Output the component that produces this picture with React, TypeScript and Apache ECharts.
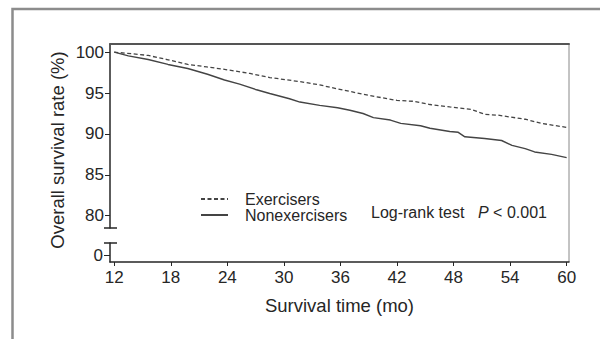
import React, { useEffect, useRef } from "react";
import * as echarts from "echarts";

const xTicks = [12, 18, 24, 30, 36, 42, 48, 54, 60];
const yTicksUpper = [80, 85, 90, 95, 100];
const yTicksLower = [0];
const seriesNames = ["Exercisers", "Nonexercisers"];

const exerTime = [12, 14, 15.6, 17.6, 19.8, 21.8, 23.7, 26.4, 28.5, 31.7, 33.8, 35.7, 37, 39.1, 42, 43.7, 45.5, 47.6, 49.9, 51.3, 52.7, 55.6, 57.3, 60];
const exerSurv = [100, 99.8, 99.6, 99.1, 98.5, 98.2, 97.9, 97.4, 96.9, 96.4, 96.0, 95.5, 95.2, 94.7, 94.1, 94.0, 93.6, 93.3, 93.0, 92.4, 92.3, 91.8, 91.3, 90.8];

const nonTime = [12, 13.5, 15.6, 17.7, 19.8, 21.9, 23.7, 25.3, 27.1, 28.5, 30.6, 31.7, 33.8, 35.7, 37.0, 38.4, 39.5, 41.3, 42.4, 44.5, 45.5, 47.6, 48.5, 49.2, 51.3, 53.1, 54.2, 55.6, 56.6, 58.4, 60];
const nonSurv = [100, 99.55, 99.1, 98.5, 98.0, 97.3, 96.6, 96.1, 95.4, 94.95, 94.3, 93.9, 93.5, 93.2, 92.9, 92.5, 92.0, 91.7, 91.3, 91.0, 90.7, 90.3, 90.2, 89.65, 89.45, 89.2, 88.6, 88.2, 87.8, 87.5, 87.1];

export default function App() {
  const ref = useRef<HTMLDivElement>(null);
  useEffect(() => {
    document.body.style.margin = "0";
    const chart = echarts.init(ref.current!, null, { renderer: "svg" });
    const font = "'Liberation Sans', Arial, Helvetica, sans-serif";
    const ink = "#262626";
    const lineColor = "#444";
    const option: any = {
      animation: false,
      textStyle: { fontFamily: font },
      grid: [
        { left: 110, top: 44, width: 459, height: 184 },
        { left: 110, top: 243, width: 459, height: 19 },
      ],
      xAxis: [
        {
          gridIndex: 0, type: "value", min: 11.55, max: 60.25, position: "top",
          axisLine: { show: true, onZero: false, lineStyle: { color: "#555", width: 2 } },
          axisTick: { show: false }, axisLabel: { show: false }, splitLine: { show: false },
        },
        {
          gridIndex: 1, type: "value", min: 11.55, max: 60.25, position: "bottom",
          axisLine: { show: true, onZero: false, lineStyle: { color: ink, width: 1.5 } },
          axisTick: { show: true, length: 4, customValues: xTicks, lineStyle: { color: ink, width: 1 } },
          axisLabel: { show: true, customValues: xTicks, fontSize: 17, color: ink, margin: 7, fontFamily: font },
          splitLine: { show: false },
          name: "Survival time (mo)", nameLocation: "middle", nameGap: 34,
          nameTextStyle: { fontSize: 18.5, color: ink, fontFamily: font },
        },
      ],
      yAxis: [
        {
          gridIndex: 0, type: "value", min: 78.5, max: 101,
          axisLine: { show: true, onZero: false, lineStyle: { color: ink, width: 1.5 } },
          axisTick: { show: true, length: 5, customValues: yTicksUpper, lineStyle: { color: ink, width: 1 } },
          axisLabel: { show: true, customValues: yTicksUpper, fontSize: 17, color: ink, margin: 6, fontFamily: font },
          splitLine: { show: false },
        },
        {
          gridIndex: 1, type: "value", min: -1, max: 2,
          axisLine: { show: true, onZero: false, lineStyle: { color: ink, width: 1.5 } },
          axisTick: { show: true, length: 6, customValues: yTicksLower, lineStyle: { color: ink, width: 1 } },
          axisLabel: { show: true, customValues: yTicksLower, fontSize: 17, color: ink, margin: 7, fontFamily: font },
          splitLine: { show: false },
        },
      ],
      legend: {
        orient: "vertical", left: 200, top: 191, itemWidth: 27, itemHeight: 14, itemGap: 0,
        data: seriesNames, selectedMode: false, padding: 0,
        itemStyle: { opacity: 0 },
        textStyle: { fontSize: 16, color: ink, padding: [0, 0, 0, 12], lineHeight: 14, fontFamily: font },
      },
      series: [
        {
          name: seriesNames[0], type: "line", xAxisIndex: 0, yAxisIndex: 0,
          data: exerTime.map((t, i) => [t, exerSurv[i]]),
          symbol: "none", lineStyle: { color: lineColor, width: 1.3, type: [4, 2.5] },
          itemStyle: { color: lineColor },
        },
        {
          name: seriesNames[1], type: "line", xAxisIndex: 0, yAxisIndex: 0,
          data: nonTime.map((t, i) => [t, nonSurv[i]]),
          symbol: "none", lineStyle: { color: lineColor, width: 1.4, type: "solid" },
          itemStyle: { color: lineColor },
        },
      ],
      graphic: [
        { type: "polyline", shape: { points: [[12.5, 339], [12.5, 9], [600, 9]] }, style: { stroke: "#8c8c8c", lineWidth: 2.5, fill: "none" } },
        { type: "line", shape: { x1: 569, y1: 44, x2: 569, y2: 262 }, style: { stroke: "#888", lineWidth: 1 } },
        { type: "line", shape: { x1: 104, y1: 228, x2: 117, y2: 228 }, style: { stroke: ink, lineWidth: 1.5 } },
        { type: "line", shape: { x1: 104, y1: 243, x2: 117, y2: 243 }, style: { stroke: ink, lineWidth: 1.5 } },
        {
          type: "text", x: 57, y: 150, rotation: Math.PI / 2,
          style: { text: "Overall survival rate (%)", fontSize: 18.5, fontFamily: font, fill: ink, align: "center", verticalAlign: "middle" },
        },
        {
          type: "text", x: 371, y: 212,
          style: { text: "Log-rank test", fontSize: 16, fontFamily: font, fill: ink, align: "left", verticalAlign: "middle" },
        },
        {
          type: "text", x: 478, y: 212,
          style: {
            text: "{i|P} < 0.001", fontSize: 16, fontFamily: font, fill: ink, align: "left", verticalAlign: "middle",
            rich: { i: { fontStyle: "italic", fontSize: 16, fontFamily: font, fill: ink } },
          },
        },
      ],
    };
    chart.setOption(option);
    return () => chart.dispose();
  }, []);
  return <div ref={ref} style={{ width: 600, height: 339 }} />;
}
